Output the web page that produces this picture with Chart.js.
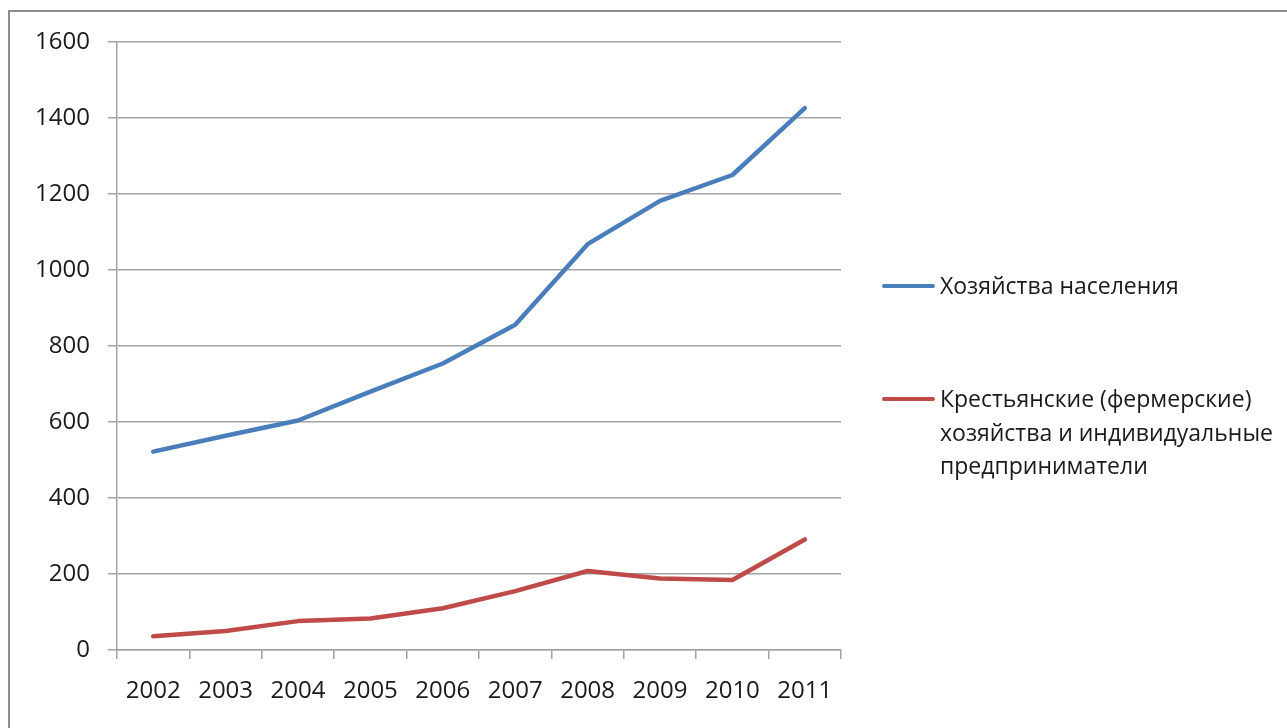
<!DOCTYPE html>
<html>
<head>
<meta charset="utf-8">
<script src="https://cdn.jsdelivr.net/npm/chart.js@4/dist/chart.umd.min.js"></script>
<style>
  html, body { margin: 0; padding: 0; background: #fff; }
  body { width: 1287px; height: 728px; position: relative; overflow: hidden; font-family: "Open Sans", "Noto Sans", sans-serif; }
  #frame { position: absolute; left: 8px; top: 10px; width: 1300px; height: 740px; border-left: 2px solid #8c8c8c; border-top: 2px solid #8c8c8c; }
  #wrap { position: absolute; left: 0; top: 0; width: 1287px; height: 728px; }
  #legend { position: absolute; left: 882px; top: 0; }
  .item { position: absolute; left: 0; white-space: nowrap; }
  .swatch { position: absolute; left: 0; width: 53px; height: 4px; border-radius: 2px; }
  .lbl { position: absolute; left: 58px; font-size: 23px; line-height: 33.5px; color: #1a1a1a; }
</style>
</head>
<body>
<div id="frame"></div>
<div id="wrap"><canvas id="chart" width="1287" height="728"></canvas></div>
<div id="legend"></div>
<script>
const years = ['2002', '2003', '2004', '2005', '2006', '2007', '2008', '2009', '2010', '2011'];
const households = [522, 564, 604, 680, 754, 856, 1068, 1182, 1250, 1426];
const farms = [36, 50, 76, 83, 110, 155, 208, 188, 184, 291];
const seriesNames = ['Хозяйства населения', 'Крестьянские (фермерские)\nхозяйства и индивидуальные\nпредприниматели'];
const seriesColors = ['#4a7ebb', '#be4b48'];

const font = { family: '"Open Sans", "Noto Sans", sans-serif', size: 24 };
const gridColor = '#a3a3a3';

const chart = new Chart(document.getElementById('chart'), {
  type: 'line',
  data: {
    labels: years,
    datasets: [
      { label: seriesNames[0], data: households, borderColor: seriesColors[0] },
      { label: seriesNames[1], data: farms, borderColor: seriesColors[1] }
    ]
  },
  options: {
    responsive: false,
    animation: false,
    layout: { padding: { left: 0, top: 42, right: 446, bottom: 0 } },
    elements: {
      line: { borderWidth: 4.5, tension: 0, borderCapStyle: 'round', borderJoinStyle: 'round' },
      point: { radius: 0, hoverRadius: 0 }
    },
    plugins: { legend: { display: false }, tooltip: { enabled: false } },
    scales: {
      x: {
        offset: true,
        grid: { offset: true, drawOnChartArea: false, drawTicks: true, tickLength: 9, color: gridColor, lineWidth: 1.5 },
        border: { display: true, color: gridColor, width: 1.5 },
        ticks: { font, color: '#1a1a1a', padding: 18, maxRotation: 0 },
        afterFit: s => { s.height = 78; }
      },
      y: {
        min: 0,
        max: 1600,
        ticks: { stepSize: 200, font, color: '#1a1a1a', padding: 18, callback: v => String(v) },
        grid: { drawTicks: true, tickLength: 9, color: gridColor, lineWidth: 1.5 },
        border: { display: true, color: gridColor, width: 1.5 },
        afterFit: s => { s.width = 117; }
      }
    }
  }
});

// legend built from the chart's datasets
const legendTops = [286, 399];
const legend = document.getElementById('legend');
chart.data.datasets.forEach((ds, i) => {
  const item = document.createElement('div');
  item.className = 'item';
  item.style.top = legendTops[i] + 'px';
  const sw = document.createElement('div');
  sw.className = 'swatch';
  sw.style.background = ds.borderColor;
  sw.style.top = '-2px';
  const lbl = document.createElement('div');
  lbl.className = 'lbl';
  lbl.style.top = '-17px';
  lbl.innerHTML = ds.label.split('\n').join('<br>');
  item.appendChild(sw);
  item.appendChild(lbl);
  legend.appendChild(item);
});
</script>
</body>
</html>
